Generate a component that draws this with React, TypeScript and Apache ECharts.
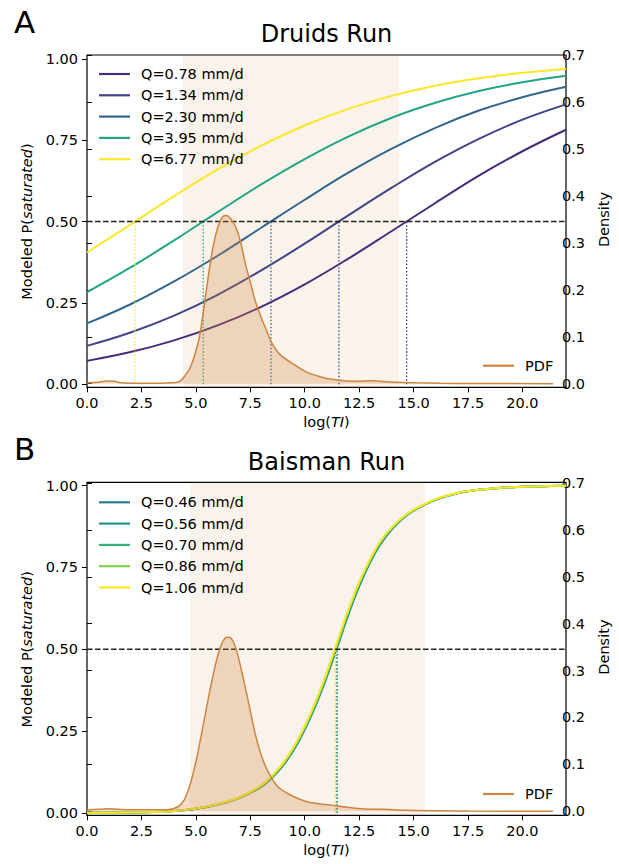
import React, { useEffect, useRef } from "react";
import * as echarts from "echarts";

const FONT = "DejaVu Sans";

// ---------- Panel A: Druids Run ----------
const xA = [0, 2, 4, 6, 8, 10, 12, 14, 16, 18, 20, 22];
const namesA = ["Q=0.78 mm/d", "Q=1.34 mm/d", "Q=2.30 mm/d", "Q=3.95 mm/d", "Q=6.77 mm/d"];
const colorsA = ["#482b7a", "#414487", "#32668e", "#23a585", "#fde725"];
const pA078 = [0.072, 0.099, 0.135, 0.181, 0.238, 0.307, 0.386, 0.471, 0.557, 0.641, 0.716, 0.782];
const pA134 = [0.118, 0.159, 0.211, 0.275, 0.350, 0.432, 0.519, 0.604, 0.684, 0.754, 0.813, 0.860];
const pA230 = [0.187, 0.246, 0.316, 0.395, 0.481, 0.567, 0.650, 0.724, 0.788, 0.841, 0.882, 0.914];
const pA395 = [0.283, 0.359, 0.442, 0.529, 0.614, 0.692, 0.761, 0.819, 0.865, 0.901, 0.928, 0.948];
const pA677 = [0.405, 0.491, 0.578, 0.660, 0.733, 0.795, 0.846, 0.886, 0.917, 0.940, 0.957, 0.969];
const curvesA = [pA078, pA134, pA230, pA395, pA677];
const crossA = [14.68, 11.57, 8.45, 5.34, 2.2];
const shadeA = [4.39, 14.34];
const pdfAx = [0, 0.5, 0.8, 1.0, 1.3, 1.6, 2.5, 3.5, 4.0, 4.27, 4.5, 4.88, 5.27, 5.5, 5.72, 5.95, 6.18, 6.41, 6.57, 6.8, 7.02, 7.25, 7.48, 7.71, 7.94, 8.25, 8.48, 8.71, 9.09, 9.63, 10.39, 11.0, 11.46, 12.2, 12.84, 13.45, 14.37, 15.5, 16.67, 18, 22];
const pdfAd = [0.002, 0.003, 0.005, 0.006, 0.005, 0.002, 0.001, 0.001, 0.002, 0.003, 0.010, 0.035, 0.092, 0.156, 0.227, 0.291, 0.334, 0.356, 0.3585, 0.351, 0.334, 0.302, 0.255, 0.216, 0.177, 0.138, 0.113, 0.088, 0.063, 0.045, 0.024, 0.015, 0.010, 0.006, 0.005, 0.0064, 0.0036, 0.002, 0.0007, 0.0003, 0.0001];

// ---------- Panel B: Baisman Run ----------
const xB = [0, 1, 2, 3, 4, 5, 6, 7, 8, 8.5, 9, 9.5, 10, 10.5, 11, 11.5, 12, 12.5, 13, 13.5, 14, 14.5, 15, 16, 17, 18, 19, 20, 21, 22];
const namesB = ["Q=0.46 mm/d", "Q=0.56 mm/d", "Q=0.70 mm/d", "Q=0.86 mm/d", "Q=1.06 mm/d"];
const colorsB = ["#27808e", "#1f978b", "#33b67a", "#80d34d", "#fde725"];
const pB046 = [0.001, 0.001, 0.002, 0.003, 0.006, 0.013, 0.026, 0.046, 0.080, 0.108, 0.145, 0.193, 0.255, 0.328, 0.413, 0.508, 0.605, 0.692, 0.765, 0.823, 0.866, 0.899, 0.923, 0.956, 0.976, 0.987, 0.993, 0.996, 0.998, 0.999];
const pB056 = [0.001, 0.001, 0.002, 0.003, 0.006, 0.013, 0.026, 0.046, 0.081, 0.109, 0.147, 0.195, 0.258, 0.331, 0.417, 0.512, 0.609, 0.695, 0.768, 0.825, 0.868, 0.900, 0.924, 0.956, 0.976, 0.987, 0.993, 0.996, 0.998, 0.999];
const pB070 = [0.001, 0.001, 0.002, 0.003, 0.006, 0.013, 0.026, 0.047, 0.082, 0.110, 0.149, 0.198, 0.260, 0.334, 0.420, 0.516, 0.613, 0.699, 0.770, 0.828, 0.869, 0.901, 0.924, 0.957, 0.976, 0.987, 0.993, 0.996, 0.998, 0.999];
const pB086 = [0.001, 0.001, 0.002, 0.003, 0.006, 0.014, 0.027, 0.047, 0.083, 0.112, 0.150, 0.200, 0.263, 0.337, 0.424, 0.520, 0.616, 0.702, 0.773, 0.830, 0.871, 0.902, 0.925, 0.957, 0.977, 0.987, 0.993, 0.996, 0.998, 0.999];
const pB106 = [0.001, 0.001, 0.002, 0.003, 0.006, 0.014, 0.027, 0.048, 0.084, 0.113, 0.152, 0.202, 0.265, 0.340, 0.427, 0.524, 0.620, 0.705, 0.775, 0.832, 0.872, 0.903, 0.926, 0.958, 0.977, 0.987, 0.993, 0.996, 0.998, 0.999];
const curvesB = [pB046, pB056, pB070, pB086, pB106];
const crossB = [11.49, 11.47, 11.45, 11.43, 11.41];
const shadeB = [4.73, 15.52];
const pdfBx = [0, 0.5, 1.0, 1.5, 2.5, 3.5, 3.81, 4.27, 4.58, 4.88, 5.19, 5.5, 5.8, 6.11, 6.34, 6.55, 6.7, 6.9, 7.10, 7.33, 7.64, 7.94, 8.25, 8.55, 9.01, 9.63, 10.39, 11.46, 12.99, 14.0, 15.0, 16.5, 18, 22];
const pdfBd = [0.003, 0.004, 0.005, 0.004, 0.003, 0.003, 0.003, 0.009, 0.023, 0.059, 0.116, 0.187, 0.257, 0.321, 0.355, 0.370, 0.371, 0.362, 0.336, 0.293, 0.229, 0.165, 0.116, 0.084, 0.052, 0.034, 0.020, 0.013, 0.005, 0.004, 0.002, 0.001, 0.0003, 0.0001];

const xTickValues = [0, 2.5, 5, 7.5, 10, 12.5, 15, 17.5, 20];

const PEACH = "205,133,63";

function buildOption() {
  const text = { fontFamily: FONT, fontSize: 14.5, color: "#000" };

  const L = 87, R = 53;
  const grids = [
    { left: L, right: R, top: 55, height: 332.3, show: true, borderColor: "#000", borderWidth: 1.2, backgroundColor: "transparent" },
    { left: L, right: R, top: 58.8, height: 325.5 },
    { left: L, right: R, top: 55.3, height: 328.4 },
    { left: L, right: R, top: 482.3, height: 333, show: true, borderColor: "#000", borderWidth: 1.2, backgroundColor: "transparent" },
    { left: L, right: R, top: 485.5, height: 327.5 },
    { left: L, right: R, top: 483, height: 328.2 },
  ];

  const xAxes: any[] = [];
  const yAxes: any[] = [];
  for (let g = 0; g < 6; g++) {
    const frame = g % 3 === 0;
    xAxes.push({
      type: "value",
      gridIndex: g,
      min: 0,
      max: 22,
      interval: 2.5,
      show: frame,
      axisLine: { show: true, lineStyle: { color: "#000", width: 1.2 } },
      axisTick: { show: true, length: 5, inside: false, customValues: xTickValues, lineStyle: { color: "#000", width: 1 } },
      axisLabel: { ...text, margin: 8, customValues: xTickValues, formatter: (v: number) => v.toFixed(1) },
      splitLine: { show: false },
      name: frame ? "log({i|TI})" : "",
      nameLocation: "middle",
      nameGap: 27,
      nameTextStyle: { ...text, rich: { i: { ...text, fontStyle: "italic" } } },
    });
    if (frame) {
      yAxes.push({ type: "value", gridIndex: g, min: 0, max: 1, show: false });
    } else if (g % 3 === 1) {
      yAxes.push({
        type: "value",
        gridIndex: g,
        position: "left",
        min: 0,
        max: 1,
        interval: 0.25,
        axisLine: { show: false },
        axisTick: { show: true, length: 5, lineStyle: { color: "#000", width: 1 } },
        axisLabel: { ...text, margin: 9, formatter: (v: number) => v.toFixed(2) },
        splitLine: { show: false },
        name: "Modeled P({i|saturated})",
        nameLocation: "middle",
        nameRotate: 90,
        nameGap: 49,
        nameTextStyle: { ...text, rich: { i: { ...text, fontStyle: "italic" } } },
      });
    } else {
      yAxes.push({
        type: "value",
        gridIndex: g,
        position: "right",
        min: 0,
        max: 0.7,
        interval: 0.1,
        axisLine: { show: false },
        axisTick: { show: true, length: 5, lineStyle: { color: "#000", width: 1 } },
        axisLabel: { ...text, margin: 9, formatter: (v: number) => v.toFixed(1) },
        splitLine: { show: false },
        name: "Density",
        nameLocation: "middle",
        nameRotate: 90,
        nameGap: 37,
        nameTextStyle: { ...text },
      });
    }
  }

  const series: any[] = [];
  const panels = [
    { base: 0, xs: xA, curves: curvesA, names: namesA, colors: colorsA, cross: crossA, shade: shadeA, px: pdfAx, pd: pdfAd },
    { base: 3, xs: xB, curves: curvesB, names: namesB, colors: colorsB, cross: crossB, shade: shadeB, px: pdfBx, pd: pdfBd },
  ];
  panels.forEach((p) => {
    series.push({
      type: "line",
      xAxisIndex: p.base,
      yAxisIndex: p.base,
      data: [[p.shade[0], -5]],
      symbol: "none",
      silent: true,
      lineStyle: { width: 0 },
      z: 1,
      markArea: {
        silent: true,
        itemStyle: { color: `rgba(${PEACH},0.1)` },
        data: [[{ xAxis: p.shade[0] }, { xAxis: p.shade[1] }]],
      },
    });
    p.curves.forEach((vals, i) => {
      series.push({
        type: "line",
        name: p.names[i],
        xAxisIndex: p.base + 1,
        yAxisIndex: p.base + 1,
        data: p.xs.map((x, k) => [x, vals[k]]),
        symbol: "none",
        smooth: 0.4,
        clip: false,
        color: p.colors[i],
        lineStyle: { color: p.colors[i], width: 2 },
        z: 3,
      });
    });
    p.cross.forEach((c, i) => {
      series.push({
        type: "line",
        xAxisIndex: p.base + 1,
        yAxisIndex: p.base + 1,
        data: [[c, 0], [c, 0.5]],
        symbol: "none",
        clip: false,
        silent: true,
        lineStyle: { color: p.colors[i], width: 1.3, type: [1.5, 2] },
        z: 3,
      });
    });
    series.push({
      type: "line",
      xAxisIndex: p.base + 1,
      yAxisIndex: p.base + 1,
      data: [[0, 0.5], [22, 0.5]],
      symbol: "none",
      silent: true,
      lineStyle: { color: "#222", width: 1.4, type: [5.5, 2.5] },
      z: 3,
    });
    series.push({
      type: "line",
      name: "PDF",
      xAxisIndex: p.base + 2,
      yAxisIndex: p.base + 2,
      data: p.px.map((x, k) => [x, p.pd[k]]),
      symbol: "none",
      smooth: 0.3,
      clip: false,
      color: "#cd853f",
      lineStyle: { color: "#cd853f", width: 1.5 },
      areaStyle: { color: `rgba(${PEACH},0.4)`, origin: "start" },
      z: 4,
    });
  });

  const legendCommon = {
    orient: "vertical",
    selectedMode: false,
    icon: "rect",
    itemWidth: 31,
    itemHeight: 2.2,
    itemGap: 4.3,
    textStyle: { ...text, lineHeight: 17, padding: [0, 0, 0, 6] },
    padding: 0,
  };

  const titleText = (t: string, y: number) => ({
    type: "text",
    x: 326.5,
    y,
    style: { text: t, font: `24px ${FONT}`, fill: "#000", textAlign: "center", textVerticalAlign: "middle" },
  });
  const letter = (t: string, y: number) => ({
    type: "text",
    x: 14,
    y,
    style: { text: t, font: `31px ${FONT}`, fill: "#000", textAlign: "left", textVerticalAlign: "middle" },
  });

  return {
    animation: false,
    backgroundColor: "#fff",
    grid: grids,
    xAxis: xAxes,
    yAxis: yAxes,
    series,
    legend: [
      { ...legendCommon, data: namesA, left: 99, top: 65.5 },
      { ...legendCommon, data: namesB, left: 99, top: 493.8 },
      { ...legendCommon, data: ["PDF"], left: 483, top: 357.2 },
      { ...legendCommon, data: ["PDF"], left: 483, top: 785.5 },
    ],
    graphic: [
      titleText("Druids Run", 34),
      titleText("Baisman Run", 462),
      letter("A", 22),
      letter("B", 449),
    ],
  };
}

export default function App() {
  const ref = useRef<HTMLDivElement>(null);
  useEffect(() => {
    document.body.style.margin = "0";
    if (!ref.current) return;
    const chart = echarts.init(ref.current, undefined, { renderer: "svg" });
    chart.setOption(buildOption() as any);
    return () => chart.dispose();
  }, []);
  return <div ref={ref} style={{ position: "absolute", left: 0, top: 0, width: 619, height: 864 }} />;
}
